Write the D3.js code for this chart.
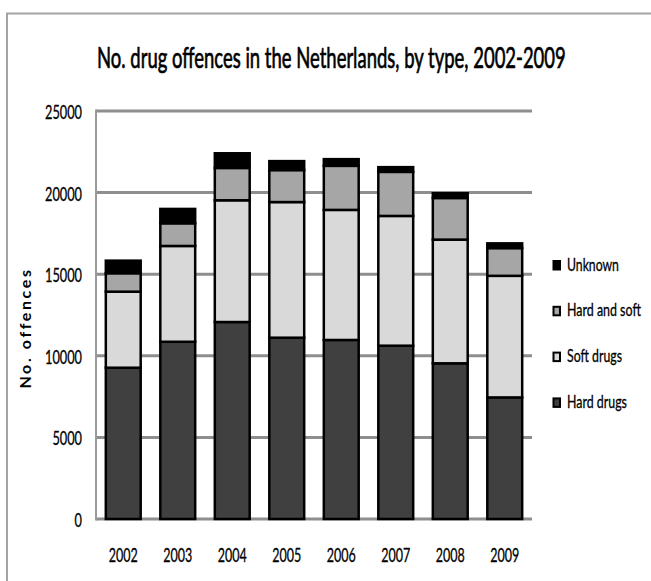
<!DOCTYPE html>
<html>
<head>
<meta charset="utf-8">
<script src="https://cdn.jsdelivr.net/npm/d3@7"></script>
<style>
  html, body { margin: 0; padding: 0; background: #fff; }
  svg { display: block; }
  text { font-family: Lato, "Open Sans", sans-serif; fill: #000; }
</style>
</head>
<body>
<svg id="chart" width="651" height="581"></svg>
<script>
// Drug offences in the Netherlands by type, 2002-2009
const years = ["2002", "2003", "2004", "2005", "2006", "2007", "2008", "2009"];
const hardDrugs   = [9270, 10860, 12070, 11110, 10970, 10620, 9540, 7450];
const softDrugs   = [4660, 5870, 7460, 8310, 7970, 7950, 7580, 7450];
const hardAndSoft = [1130, 1390, 1980, 1960, 2700, 2700, 2550, 1700];
const unknown     = [770, 880, 900, 550, 410, 290, 290, 290];
const yTicks = [0, 5000, 10000, 15000, 20000, 25000];

const seriesNames = ["Hard drugs", "Soft drugs", "Hard and soft", "Unknown"];
const seriesColors = ["#404040", "#d9d9d9", "#a6a6a6", "#000000"];
const seriesValues = [hardDrugs, softDrugs, hardAndSoft, unknown];

const rows = years.map((y, i) => {
  const r = { year: y };
  seriesNames.forEach((s, k) => { r[s] = seriesValues[k][i]; });
  return r;
});
const stacked = d3.stack().keys(seriesNames)(rows);

const svg = d3.select("#chart");

// Narrow the text horizontally to a given width, anchored at (ax, ay).
function fitWidth(sel, ax, ay, width) {
  sel.each(function (d, i) {
    const t = d3.select(this);
    const w = this.getComputedTextLength();
    const tx = typeof ax === "function" ? ax(d, i) : ax;
    const ty = typeof ay === "function" ? ay(d, i) : ay;
    const tw = typeof width === "function" ? width(d, i) : width;
    t.attr("x", 0).attr("y", 0)
     .attr("transform", `translate(${tx},${ty}) scale(${tw / w},1)`);
  });
}

// outer chart frame
svg.append("rect")
  .attr("x", 7).attr("y", 13.5)
  .attr("width", 700).attr("height", 700)
  .attr("fill", "none").attr("stroke", "#a3a3a3").attr("stroke-width", 2);

const x = d3.scaleBand().domain(years).range([96, 532]).paddingInner(0.36).paddingOuter(0.18);
const y = d3.scaleLinear().domain([0, 25000]).range([519, 111]);

// gridlines
svg.append("g").selectAll("line")
  .data(yTicks)
  .join("line")
  .attr("x1", 96).attr("x2", 532)
  .attr("y1", d => y(d)).attr("y2", d => y(d))
  .attr("stroke", "#8e8e8e").attr("stroke-width", 3);

// y axis line
svg.append("line")
  .attr("x1", 96).attr("x2", 96)
  .attr("y1", y(25000) - 1.5).attr("y2", y(0) + 1.5)
  .attr("stroke", "#9a9a9a").attr("stroke-width", 2);

// y tick labels
svg.append("g").selectAll("text")
  .data(yTicks)
  .join("text")
  .attr("text-anchor", "end")
  .attr("font-size", 19)
  .attr("stroke", "#000").attr("stroke-width", 0.3)
  .text(d => d)
  .call(fitWidth, 82, d => y(d) + 8, d => String(d).length * 7.4);

// stacked bars
const layers = svg.append("g").selectAll("g")
  .data(stacked)
  .join("g")
  .attr("fill", (d, i) => seriesColors[i]);

layers.selectAll("rect")
  .data(d => d)
  .join("rect")
  .attr("x", d => x(d.data.year))
  .attr("width", x.bandwidth())
  .attr("y", d => y(d[1]))
  .attr("height", d => y(d[0]) - y(d[1]))
  .attr("stroke", "#000")
  .attr("stroke-width", 2.5);

// x labels
svg.append("g").selectAll("text")
  .data(years)
  .join("text")
  .attr("text-anchor", "middle")
  .attr("font-size", 19)
  .attr("stroke", "#000").attr("stroke-width", 0.3)
  .text(d => d)
  .call(fitWidth, d => x(d) + x.bandwidth() / 2, 562, 29);

// title
svg.append("text")
  .attr("font-size", 29)
  .attr("stroke", "#000").attr("stroke-width", 0.7)
  .text("No. drug offences in the Netherlands, by type, 2002-2009")
  .call(fitWidth, 97, 68, 469);

// y axis title
svg.append("text")
  .attr("transform", "translate(31,328) rotate(-90)")
  .attr("text-anchor", "middle")
  .attr("font-size", 16)
  .attr("font-weight", "bold")
  .attr("font-family", "'DejaVu Sans', sans-serif")
  .attr("letter-spacing", 2.6)
  .text("No. offences");

// legend, top entry is the top of the stack
const legendOrder = [3, 2, 1, 0];
const legendWidths = [52, 74, 55, 60];
const legend = svg.append("g").selectAll("g")
  .data(legendOrder)
  .join("g")
  .attr("transform", (k, i) => `translate(553,${270.5 + i * 45.8})`);

legend.append("rect")
  .attr("x", 0.5).attr("y", -9.5)
  .attr("width", 6.5).attr("height", 8.5)
  .attr("fill", k => seriesColors[k])
  .attr("stroke", "#000").attr("stroke-width", 2);

legend.append("text")
  .attr("font-size", 17)
  .attr("stroke", "#000").attr("stroke-width", 0.3)
  .text(k => seriesNames[k])
  .call(fitWidth, 14, 0, (k, i) => legendWidths[i]);
</script>
</body>
</html>
